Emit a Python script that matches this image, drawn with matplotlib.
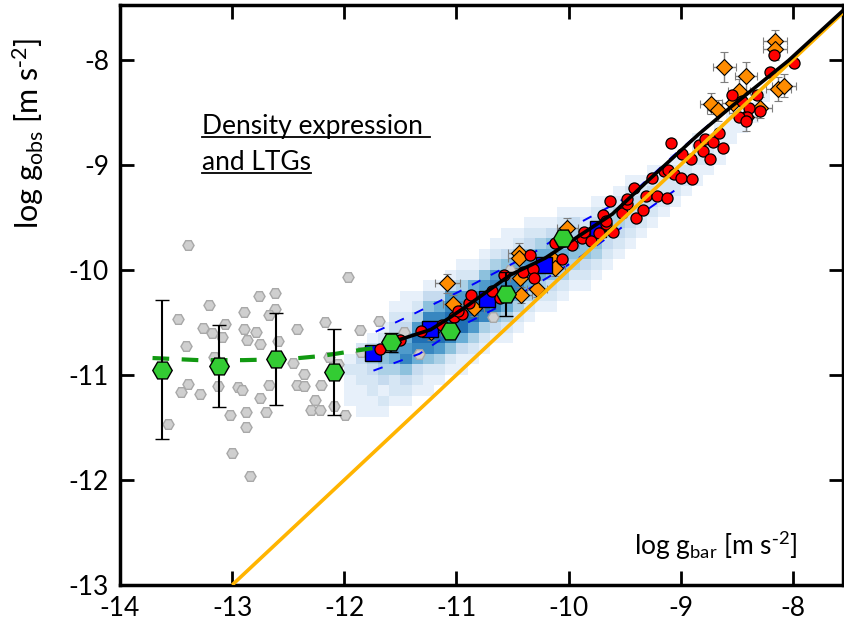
import numpy as np
import matplotlib
matplotlib.use("Agg")
import matplotlib.pyplot as plt
from matplotlib.lines import Line2D

plt.rcParams["font.family"] = ["Lato", "DejaVu Sans"]
plt.rcParams["mathtext.default"] = "regular"

# =========================
# data
# =========================
# low-acceleration individual points (grey hexagons)
gray_x = [-13.39, -13.48, -13.21, -13.41, -13.26, -13.18, -13.09, -13.06, -13.16, -13.39,
          -13.46, -13.29, -13.57, -13.13, -12.95, -12.91, -13.02, -12.88, -12.88, -13.00,
          -12.84, -12.76, -12.62, -12.62, -12.67, -12.89, -12.89, -12.79, -12.87, -12.75,
          -12.59, -12.46, -12.42, -12.17, -12.36, -12.42, -12.36, -12.21, -12.67, -12.75,
          -12.70, -12.26, -12.30, -12.22, -12.09, -11.99, -11.97, -12.14, -12.06, -11.86,
          -11.69, -11.47, -11.33, -10.67, -10.52, -11.85]
gray_y = [-9.76, -10.47, -10.34, -10.73, -10.55, -10.60, -10.64, -10.52, -10.83, -11.09,
          -11.16, -11.18, -11.47, -11.11, -11.12, -11.14, -11.38, -11.35, -11.50, -11.74,
          -11.96, -10.25, -10.22, -10.37, -10.43, -10.40, -10.56, -10.59, -10.67, -10.71,
          -10.68, -10.89, -10.56, -10.50, -10.99, -11.10, -11.11, -11.10, -11.10, -11.22,
          -11.35, -11.24, -11.33, -11.33, -11.30, -11.38, -10.07, -10.83, -10.90, -10.57,
          -10.49, -10.59, -10.80, -10.45, -10.00, -10.78]

# binned density points (green hexagons)
bin_x = [-13.63, -13.12, -12.61, -12.09, -11.58, -11.06, -10.56, -10.05]
bin_y = [-10.95, -10.92, -10.85, -10.97, -10.69, -10.58, -10.23, -9.70]
bin_err = [0.66, 0.39, 0.44, 0.41, 0.09, 0.0, 0.21, 0.05]

# green dashed trend at low accelerations
gtrend_x = [-13.71, -13.30, -12.90, -12.50, -12.20, -11.96, -11.71, -11.53]
gtrend_y = [-10.84, -10.86, -10.86, -10.85, -10.82, -10.78, -10.74, -10.69]

# binned LTG data (blue squares)
sq_x = [-11.74, -11.24, -10.73, -10.22, -9.74]
sq_y = [-10.79, -10.56, -10.28, -9.95, -9.61]

# red circles
red_x = [-11.68, -11.50, -11.32, -11.13, -11.02, -10.95, -10.99, -10.89, -10.87, -10.68,
         -10.61, -10.58, -10.41, -10.34, -10.32, -10.31, -10.06, -10.04, -10.12, -9.97,
         -9.88, -9.86, -9.80, -9.72, -9.69, -9.67, -9.63, -9.60, -9.52, -9.48,
         -9.42, -9.40, -9.34, -9.31, -9.26, -9.21, -9.12, -9.15, -9.11, -9.06,
         -9.00, -8.90, -8.91, -8.99, -9.09, -8.84, -8.80, -8.74, -8.78, -8.71,
         -8.66, -8.62, -8.54, -8.45, -8.32, -8.39, -8.41, -8.29, -8.48, -8.17,
         -7.99, -8.20, -8.42, -9.73, -9.67, -9.48]
red_y = [-10.75, -10.67, -10.58, -10.53, -10.45, -10.42, -10.39, -10.32, -10.24, -10.20,
         -10.27, -10.05, -10.02, -9.86, -9.99, -10.08, -9.90, -9.73, -9.75, -9.76,
         -9.70, -9.64, -9.73, -9.65, -9.48, -9.56, -9.35, -9.64, -9.46, -9.37,
         -9.22, -9.51, -9.43, -9.30, -9.13, -9.30, -9.32, -9.06, -9.05, -9.09,
         -9.13, -9.14, -8.95, -8.90, -8.79, -8.81, -8.87, -8.95, -8.76, -8.78,
         -8.70, -8.84, -8.34, -8.39, -8.34, -8.46, -8.55, -8.49, -8.55, -7.96,
         -8.03, -8.12, -8.58, -9.65, -9.54, -9.33]

# orange diamonds with errors
dia_x = [-11.08, -11.03, -10.84, -11.23, -10.44, -10.44, -10.43, -10.42, -10.28, -10.13,
         -10.12, -10.01, -8.16, -8.16, -8.61, -8.42, -8.48, -8.13, -8.08, -8.73,
         -8.67, -8.53, -8.29, -8.42]
dia_y = [-10.13, -10.33, -10.36, -10.59, -9.84, -9.89, -10.08, -10.24, -10.18, -9.91,
         -9.98, -9.60, -7.82, -7.90, -8.07, -8.16, -8.30, -8.28, -8.25, -8.42,
         -8.48, -8.41, -8.46, -8.55]
dia_xerr = [0.11, 0.09, 0.09, 0.09, 0.10, 0.10, 0.09, 0.09, 0.09, 0.09,
            0.09, 0.09, 0.11, 0.11, 0.10, 0.10, 0.10, 0.11, 0.11, 0.10,
            0.10, 0.10, 0.10, 0.10]
dia_yerr = [0.09, 0.09, 0.08, 0.08, 0.09, 0.09, 0.08, 0.08, 0.08, 0.08,
            0.08, 0.09, 0.10, 0.10, 0.14, 0.14, 0.12, 0.11, 0.11, 0.10,
            0.10, 0.10, 0.10, 0.13]

# fitted relation (black) and scatter band (blue dashed)
fit_x = [-11.58, -11.23, -11.08, -10.90, -10.73, -10.52, -10.21, -9.91, -9.61, -9.29,
         -8.84, -8.54, -8.04, -7.55]
fit_y = [-10.69, -10.57, -10.47, -10.34, -10.21, -10.05, -9.89, -9.68, -9.47, -9.15,
         -8.71, -8.44, -8.01, -7.53]
band_hi_x = [-11.72, -11.40, -10.98, -10.30, -9.88, -9.46, -9.05, -8.75]
band_hi_y = [-10.59, -10.43, -10.21, -9.83, -9.54, -9.30, -8.90, -8.62]
band_lo_x = [-11.74, -11.33, -10.95, -10.60, -10.18, -9.91, -9.49, -9.02, -8.84]
band_lo_y = [-10.96, -10.80, -10.53, -10.34, -10.07, -9.89, -9.57, -9.22, -9.05]

# one-to-one line
unity_x = [-13.0, -7.55]
unity_y = [-13.0, -7.55]

# 2D density of the LTG sample: column centre x, lowest bin edge y, bin counts upward
hist_cols = [
    (-11.95, -11.3, "11121"),
    (-11.85, -11.4, "1112232"),
    (-11.75, -11.4, "11223431"),
    (-11.65, -11.4, "121345421"),
    (-11.55, -11.3, "1224675321"),
    (-11.45, -11.3, "12358763211"),
    (-11.35, -11.2, "1236897421"),
    (-11.25, -11.2, "11258998531"),
    (-11.15, -11.1, "1247998631"),
    (-11.05, -11.0, "1258998731"),
    (-10.95, -11.0, "11369987421"),
    (-10.85, -10.9, "1247998621"),
    (-10.75, -10.8, "1248997521"),
    (-10.65, -10.7, "1358987421"),
    (-10.55, -10.7, "12468875311"),
    (-10.45, -10.6, "1246886421"),
    (-10.35, -10.5, "1246775321"),
    (-10.25, -10.4, "124676421"),
    (-10.15, -10.4, "123566531"),
    (-10.05, -10.3, "124565421"),
    (-9.95, -10.2, "12456431"),
    (-9.85, -10.2, "12355421"),
    (-9.75, -10.1, "12455321"),
    (-9.65, -10.0, "1234431"),
    (-9.55, -9.9, "1234421"),
    (-9.45, -9.8, "1233321"),
    (-9.35, -9.7, "123321"),
    (-9.25, -9.6, "123321"),
    (-9.15, -9.5, "12221"),
    (-9.05, -9.4, "12221"),
    (-8.95, -9.3, "1221"),
    (-8.85, -9.2, "11221"),
    (-8.75, -9.1, "1221"),
    (-8.65, -9.0, "1111"),
    (-8.55, -8.8, "111"),
    (-8.45, -8.7, "111"),
    (-8.35, -8.6, "11"),
    (-8.25, -8.4, "1"),
]

# =========================
# build the density grid
# =========================
xedges = np.round(np.arange(-12.0, -8.15, 0.1), 2)
yedges = np.round(np.arange(-11.5, -7.95, 0.1), 2)
H = np.zeros((len(yedges) - 1, len(xedges) - 1))
for xc, ylo, counts in hist_cols:
    ix = int(round((xc - 0.05 - xedges[0]) / 0.1))
    iy0 = int(round((ylo - yedges[0]) / 0.1))
    for k, c in enumerate(counts):
        H[iy0 + k, ix] = int(c)
H = np.ma.masked_equal(H, 0)

# =========================
# plot
# =========================
fig = plt.figure(figsize=(8.44, 6.22), dpi=100)
ax = fig.add_axes([0.1422, 0.0595, 0.857, 0.9325])

ax.pcolormesh(xedges, yedges, H, cmap="Blues", vmin=0, vmax=12, zorder=1)

ax.plot(gray_x, gray_y, "H", ms=8, mfc="#cfcfcf", mec="#a8a8a8", mew=1, ls="none", zorder=2)

ax.plot(band_hi_x, band_hi_y, color="#0000ff", lw=1.4, dashes=(5, 6), zorder=3)
ax.plot(band_lo_x, band_lo_y, color="#0000ff", lw=1.4, dashes=(5, 6), zorder=3)

ax.errorbar(dia_x, dia_y, xerr=dia_xerr, yerr=dia_yerr, fmt="D", ms=8.5, mfc="#ff8c00",
            mec="black", mew=0.8, ecolor="#7f7f7f", elinewidth=1, capsize=3, zorder=4)

ax.plot(sq_x, sq_y, "s", ms=11, mfc="#0000ff", mec="black", mew=1, ls="none", zorder=4.5)

ax.plot(red_x, red_y, "o", ms=8, mfc="#ff0000", mec="black", mew=0.9, ls="none", zorder=5)

ax.plot(unity_x, unity_y, color="#ffb400", lw=2.6, zorder=6, solid_capstyle="butt")
ax.plot(fit_x, fit_y, color="black", lw=2.6, zorder=7)

ax.plot(gtrend_x, gtrend_y, color="#119911", lw=3, dashes=(4, 3), zorder=9)
ax.errorbar(bin_x, bin_y, yerr=bin_err, fmt="H", ms=14, mfc="#33cc33", mec="black",
            mew=1, ecolor="black", elinewidth=1.5, capsize=5, zorder=10)

ax.set_xlim(-14, -7.55)
ax.set_ylim(-13, -7.48)
ax.set_xticks(range(-14, -7))
ax.set_yticks(range(-13, -7))
ax.set_xticklabels([str(v) for v in range(-14, -7)])
ax.set_yticklabels([str(v) for v in range(-13, -7)])
ax.tick_params(direction="in", length=10, width=2, labelsize=19, top=True, right=True,
               pad=8)
for s in ax.spines.values():
    s.set_linewidth(2.5)

ax.text(0.711, 0.052, r"log g$_{bar}$ [m s$^{\text{-}2}$]", transform=ax.transAxes,
        fontsize=19, ha="left", va="baseline")
fig.text(0.033, 0.785, r"log g$_{obs}$ [m s$^{\text{-}2}$]", rotation=90, fontsize=22,
         ha="center", va="center")

# underlined label
t1 = ax.text(-13.27, -8.71, "Density expression ", fontsize=19, va="baseline")
t2 = ax.text(-13.27, -9.05, "and LTGs", fontsize=19, va="baseline")
fig.canvas.draw()
r = fig.canvas.get_renderer()
for t in (t1, t2):
    bb = t.get_window_extent(renderer=r)
    x0, _ = fig.transFigure.inverted().transform((bb.x0, 0))
    x1, _ = fig.transFigure.inverted().transform((bb.x1, 0))
    _, yb = fig.transFigure.inverted().transform(ax.transData.transform((0, t.get_position()[1])))
    fig.add_artist(Line2D([x0, x1], [yb - 3 / 622, yb - 3 / 622], color="black", lw=1.3))

fig.savefig("out.png", dpi=100)
